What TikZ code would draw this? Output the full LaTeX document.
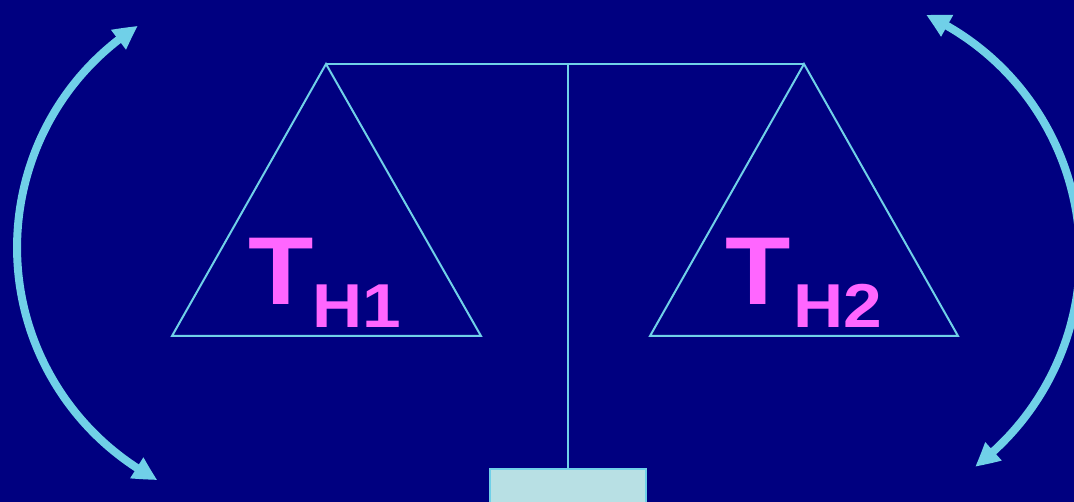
\documentclass[tikz,border=0pt]{standalone}
\usepackage{fontspec}
\newfontfamily\Tfont{Liberation Sans}[FakeStretch=1.11]
\newfontfamily\Hfont{Liberation Sans}[FakeStretch=1.12]
\usetikzlibrary{arrows.meta,bending}
\definecolor{bg}{RGB}{0,0,128}
\definecolor{cyanl}{RGB}{112,208,232}
\definecolor{mag}{RGB}{255,102,255}
\definecolor{basefill}{RGB}{184,224,228}
\begin{document}
\begin{tikzpicture}[x=1pt,y=1pt,
  frame/.style={draw=cyanl,line width=2pt,line join=miter},
  swing/.style={draw=cyanl,line width=8pt,
    {Triangle[length=24pt,width=23pt,bend]}-{Triangle[length=24pt,width=23pt,bend]}},
  lbl/.style={anchor=base west,inner sep=0pt,text=mag},
  stand/.style={draw=cyanl,fill=basefill,line width=2pt,inner sep=0pt,
    minimum width=156pt,minimum height=40pt}]
\useasboundingbox (0,0) rectangle (1074,502);
\fill[bg] (0,0) rectangle (1074,502);
\clip (0,0) rectangle (1074,502);
% points
\coordinate (la) at (326,438);
\coordinate (ra) at (804,438);
\coordinate (lbl1) at (172,166);
\coordinate (lbr1) at (481,166);
\coordinate (rbl1) at (650,166);
\coordinate (rbr1) at (958,166);
\coordinate (ltip) at (138,476);
\coordinate (rtip) at (926,487);
% base
\node[stand] (base) at (568,13) {};
\coordinate (mid) at (base.north |- la);
% beam, post and pans
\draw[frame] (la) -- (ra);
\draw[frame] (mid) -- (base.north);
\draw[frame] (la) -- (lbl1) -- (lbr1) -- cycle;
\draw[frame] (ra) -- (rbl1) -- (rbr1) -- cycle;
% swinging arrows
\draw[swing] (ltip) arc[start angle=122.7,end angle=242.2,radius=263];
\draw[swing] (rtip) arc[start angle=65.2,end angle=-52.8,radius=265];
% labels
\node[lbl] (t1) at (247.8,197) {\Tfont\bfseries\fontsize{96.4}{96.4}\selectfont T\hspace{-1pt}\raisebox{-23pt}{\Hfont\bfseries\fontsize{62}{62}\selectfont H1}};
\node[lbl] (t2) at (724.8,197) {\Tfont\bfseries\fontsize{96.4}{96.4}\selectfont T\hspace{3pt}\raisebox{-23pt}{\Hfont\bfseries\fontsize{62}{62}\selectfont H2}};
\end{tikzpicture}
\end{document}
